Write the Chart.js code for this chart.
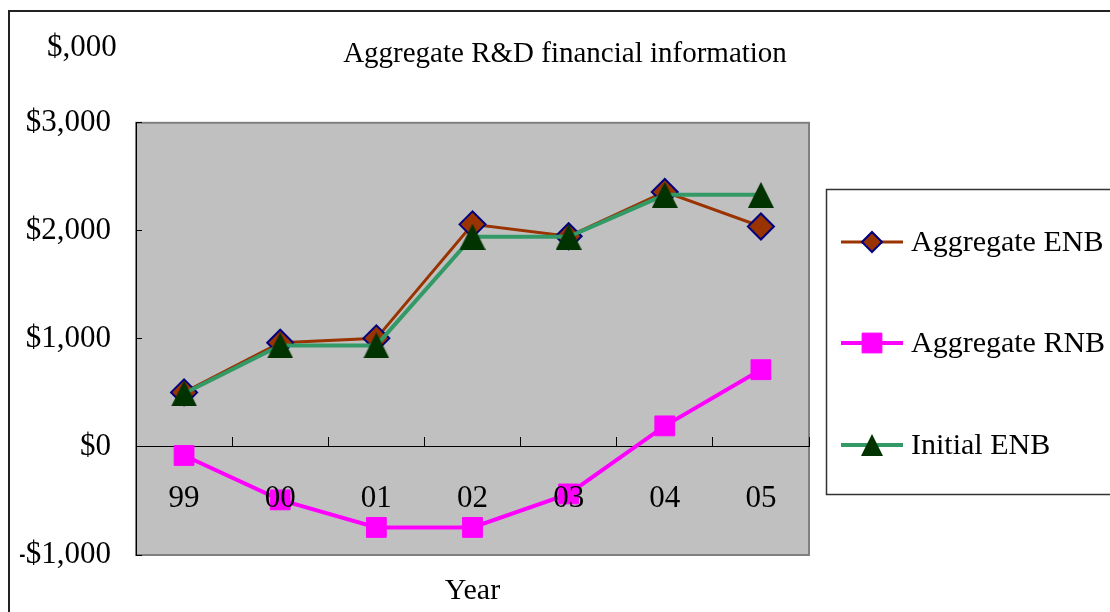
<!DOCTYPE html>
<html>
<head>
<meta charset="utf-8">
<title>Aggregate R&amp;D financial information</title>
<script src="https://cdn.jsdelivr.net/npm/chart.js@4.4.1/dist/chart.umd.min.js"></script>
<style>
  html, body { margin: 0; padding: 0; background: #fff; }
  #wrap { width: 1110px; height: 612px; position: relative; }
</style>
</head>
<body>
<div id="wrap"><canvas id="rdChart"></canvas></div>
<script>
const years = ["99", "00", "01", "02", "03", "04", "05"];
const aggregateEnb = [505, 965, 1005, 2060, 1950, 2360, 2040];
const aggregateRnb = [-79, -490, -745, -745, -435, 195, 715];
const initialEnb = [495, 940, 940, 1945, 1945, 2333, 2333];
const yTicks = [-1000, 0, 1000, 2000, 3000];

const serif = "'Liberation Serif', 'Times New Roman', serif";

// little isosceles triangle used as point style (Excel style marker)
function makeTriangle(size, color) {
  const c = document.createElement("canvas");
  c.width = size; c.height = size;
  const g = c.getContext("2d");
  g.fillStyle = color;
  g.beginPath();
  g.moveTo(size / 2, 0);
  g.lineTo(size, size);
  g.lineTo(0, size);
  g.closePath();
  g.fill();
  return c;
}
const triBig = makeTriangle(26, "#003300");
const triSmall = makeTriangle(22, "#003300");

function money(v) {
  return (v < 0 ? "-" : "") + "$" + Math.abs(v).toLocaleString("en-US");
}

// plot background, outer frame, unit label and the boxed legend
const decorations = {
  id: "decorations",
  beforeDraw(chart) {
    const { ctx, chartArea: a } = chart;
    ctx.save();
    ctx.fillStyle = "#C0C0C0";
    ctx.fillRect(a.left, a.top, a.right - a.left, a.bottom - a.top);
    ctx.strokeStyle = "#808080";
    ctx.lineWidth = 2;
    ctx.strokeRect(a.left, a.top, a.right - a.left, a.bottom - a.top);
    ctx.restore();
  },
  afterDraw(chart) {
    const ctx = chart.ctx;
    ctx.save();
    ctx.strokeStyle = "#222";
    ctx.lineWidth = 2;
    ctx.strokeRect(9, 11, 1300, 800);

    ctx.fillStyle = "#000";
    ctx.font = "31px " + serif;
    ctx.textAlign = "left";
    ctx.textBaseline = "middle";
    ctx.fillText("$,000", 47, 48);

    // legend
    ctx.strokeStyle = "#333";
    ctx.lineWidth = 1.5;
    ctx.strokeRect(826.5, 189.5, 400, 305);
    const rows = [242, 343, 445];
    const legendMarks = [
      { pointStyle: "rectRot", radius: 10 },
      { pointStyle: "rect", radius: 14 },
      { pointStyle: triSmall, radius: 11 }
    ];
    chart.data.datasets.forEach((ds, i) => {
      const y = rows[i];
      ctx.strokeStyle = ds.borderColor;
      ctx.lineWidth = ds.borderWidth;
      ctx.beginPath();
      ctx.moveTo(841, y);
      ctx.lineTo(903, y);
      ctx.stroke();
      ctx.fillStyle = ds.pointBackgroundColor;
      ctx.strokeStyle = ds.pointBorderColor;
      ctx.lineWidth = ds.pointBorderWidth;
      Chart.helpers.drawPoint(ctx, { pointStyle: legendMarks[i].pointStyle, radius: legendMarks[i].radius, rotation: 0, borderWidth: ds.pointBorderWidth }, 872, y);
      ctx.fillStyle = "#000";
      ctx.font = "30px " + serif;
      ctx.textAlign = "left";
      ctx.textBaseline = "middle";
      ctx.fillText(ds.label, 911, y + 1);
    });
    ctx.restore();
  }
};

const ctx = document.getElementById("rdChart").getContext("2d");
const rdChart = new Chart(ctx, {
  type: "line",
  data: {
    labels: years,
    datasets: [
      {
        label: "Aggregate ENB", data: aggregateEnb, order: 2,
        borderColor: "#993300", borderWidth: 3,
        pointStyle: "rectRot", pointRadius: 13, pointHoverRadius: 13,
        pointBackgroundColor: "#993300", pointBorderColor: "#000080", pointBorderWidth: 2
      },
      {
        label: "Aggregate RNB", data: aggregateRnb, order: 1,
        borderColor: "#FF00FF", borderWidth: 4,
        pointStyle: "rect", pointRadius: 14, pointHoverRadius: 14,
        pointBackgroundColor: "#FF00FF", pointBorderColor: "#FF00FF", pointBorderWidth: 1
      },
      {
        label: "Initial ENB", data: initialEnb, order: 0,
        borderColor: "#339966", borderWidth: 4,
        pointStyle: triBig, pointRadius: 13, pointHoverRadius: 13,
        pointBackgroundColor: "#003300", pointBorderColor: "#003300", pointBorderWidth: 1
      }
    ]
  },
  options: {
    responsive: true,
    maintainAspectRatio: false,
    animation: false,
    devicePixelRatio: 1,
    layout: { padding: { left: 20, right: 0, top: 0, bottom: 57 } },
    plugins: {
      legend: { display: false },
      tooltip: { enabled: false },
      title: {
        display: true,
        text: "Aggregate R&D financial information",
        color: "#000",
        font: { family: serif, size: 29, weight: "normal" },
        padding: { top: 37, bottom: 51 }
      }
    },
    scales: {
      x: {
        position: { y: 0 },
        offset: true,
        grid: { offset: true, drawOnChartArea: false, tickLength: -10, color: "#000", lineWidth: 1 },
        border: { color: "#000", width: 1 },
        ticks: { z: 1, color: "#000", font: { family: serif, size: 31 }, padding: 43, maxRotation: 0 },
        title: {
          display: true, text: "Year", color: "#000",
          font: { family: serif, size: 30 },
          padding: { top: 0, bottom: -105 }
        },
        afterFit(scale) { scale.height = 57; }
      },
      y: {
        min: -1000, max: 3000,
        afterBuildTicks(scale) { scale.ticks = yTicks.map(v => ({ value: v })); },
        grid: { drawOnChartArea: false, tickLength: -6, color: "#000", lineWidth: 1 },
        border: { color: "#000", width: 1 },
        ticks: { color: "#000", font: { family: serif, size: 31 }, padding: 31, callback: v => money(v) },
        afterFit(scale) { scale.width = 116; }
      },
      side: {
        type: "linear", position: "right", display: true,
        grid: { display: false }, border: { display: false }, ticks: { display: false },
        afterFit(scale) { scale.width = 301; }
      }
    }
  },
  plugins: [decorations]
});
</script>
</body>
</html>
